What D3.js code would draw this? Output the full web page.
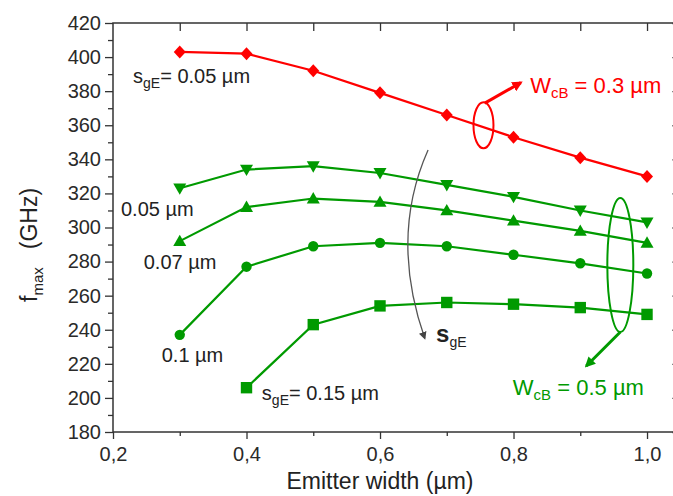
<!DOCTYPE html>
<html>
<head>
<meta charset="utf-8" />
<title>fmax vs emitter width</title>
<script src="https://cdn.jsdelivr.net/npm/d3@7"></script>
<style>
  body { margin: 0; background: #fff; }
  svg text { font-family: "Liberation Sans", Arial, sans-serif; fill: #222; }
  .frame { fill: none; stroke: #333; stroke-width: 1.5px; }
  .axis path { display: none; }
  .axis line { stroke: #333; stroke-width: 1.3px; }
  .axis text { font-size: 20px; fill: #2a2a2a; }
  .series { fill: none; stroke-width: 2.2px; }
</style>
</head>
<body>
<div id="chart"></div>
<script>
// emitter width (um)
var widths = [0.3, 0.4, 0.5, 0.6, 0.7, 0.8, 0.9, 1.0];
var widthsSq = [0.4, 0.5, 0.6, 0.7, 0.8, 0.9, 1.0];

// fmax (GHz)
var wcb03_sg005 = [403, 402, 392, 379, 366, 353, 341, 330];
var wcb05_sg005 = [323, 334, 336, 332, 325, 318, 310, 303];
var wcb05_sg007 = [292, 312, 317, 315, 310, 304, 298, 291];
var wcb05_sg010 = [237, 277, 289, 291, 289, 284, 279, 273];
var wcb05_sg015 = [206, 243, 254, 256, 255, 253, 249];

var xTicks = [0.2, 0.4, 0.6, 0.8, 1.0];
var yTicks = [180, 200, 220, 240, 260, 280, 300, 320, 340, 360, 380, 400, 420];

var RED = "#ff0000", GREEN = "#009a00";

var width = 673, height = 496;
var x = d3.scaleLinear().domain([0.2, 1.05]).range([113, 680.4]);
var y = d3.scaleLinear().domain([180, 420]).range([432, 23]);

var svg = d3.select("#chart").append("svg")
  .attr("width", width).attr("height", height);

// custom symbols
var diamond = { draw: function(ctx, s) { var w = 6, h = 6.5;
  ctx.moveTo(0, -h); ctx.lineTo(w, 0); ctx.lineTo(0, h); ctx.lineTo(-w, 0); ctx.closePath(); } };
var triUp = { draw: function(ctx, s) { var a = 6.5;
  ctx.moveTo(0, -a); ctx.lineTo(a, a * 0.75); ctx.lineTo(-a, a * 0.75); ctx.closePath(); } };
var triDown = { draw: function(ctx, s) { var a = 6.5;
  ctx.moveTo(0, a); ctx.lineTo(a, -a * 0.75); ctx.lineTo(-a, -a * 0.75); ctx.closePath(); } };

var series = [
  { xs: widths, ys: wcb03_sg005, color: RED, sym: diamond, size: 1 },
  { xs: widths, ys: wcb05_sg005, color: GREEN, sym: triDown, size: 1 },
  { xs: widths, ys: wcb05_sg007, color: GREEN, sym: triUp, size: 1 },
  { xs: widths, ys: wcb05_sg010, color: GREEN, sym: d3.symbolCircle, size: 85 },
  { xs: widthsSq, ys: wcb05_sg015, color: GREEN, sym: d3.symbolSquare, size: 130 }
];

// axes
var left = d3.axisLeft(y).tickValues(yTicks).tickSize(8).tickPadding(4);
svg.append("g").attr("class", "axis").attr("transform", "translate(113,0)").call(left);
svg.append("g").attr("class", "axis").attr("transform", "translate(113,0)")
  .call(d3.axisLeft(y).tickValues(d3.range(190, 420, 20)).tickSize(5).tickFormat(""));
svg.append("g").attr("class", "axis").attr("transform", "translate(680.4,0)")
  .call(d3.axisRight(y).tickValues(yTicks).tickSize(-8).tickFormat(""));

var bottom = d3.axisBottom(x).tickValues(xTicks).tickSize(7).tickPadding(8)
  .tickFormat(function(d) { return d3.format(".1f")(d).replace(".", ","); });
svg.append("g").attr("class", "axis").attr("transform", "translate(0,432)").call(bottom);
svg.append("g").attr("class", "axis").attr("transform", "translate(0,432)")
  .call(d3.axisBottom(x).tickValues([0.3, 0.5, 0.7, 0.9]).tickSize(4).tickFormat(""));
svg.append("g").attr("class", "axis").attr("transform", "translate(0,23)")
  .call(d3.axisTop(x).tickValues(d3.range(0.3, 1.01, 0.1)).tickSize(-8).tickFormat(""));

svg.append("rect").attr("class", "frame")
  .attr("x", x(0.2)).attr("y", y(420))
  .attr("width", x(1.05) - x(0.2)).attr("height", y(180) - y(420));

// data lines and markers
var line = d3.line().x(function(d) { return x(d[0]); }).y(function(d) { return y(d[1]); });
series.forEach(function(s) {
  var pts = s.xs.map(function(v, i) { return [v, s.ys[i]]; });
  svg.append("path").attr("class", "series").attr("stroke", s.color).attr("d", line(pts));
  svg.selectAll(null).data(pts).enter().append("path")
    .attr("transform", function(d) { return "translate(" + x(d[0]) + "," + y(d[1]) + ")"; })
    .attr("d", d3.symbol().type(s.sym).size(s.size))
    .attr("fill", s.color);
});

// axis titles
svg.append("text").attr("x", x(0.6)).attr("y", 489)
  .attr("text-anchor", "middle").style("font-size", "23px").text("Emitter width (µm)");

var yl = svg.append("text").attr("transform", "translate(37,302) rotate(-90)")
  .style("font-size", "23px");
yl.append("tspan").text("f");
yl.append("tspan").attr("dy", 6).style("font-size", "15px").text("max");
yl.append("tspan").attr("dy", -6).attr("dx", 18).text("(GHz)");

// labels with subscripts
function label(px, py, pre, sub, post, color, size, bold) {
  var t = svg.append("text").attr("x", x(px)).attr("y", y(py))
    .style("font-size", size + "px").style("fill", color);
  var a = t.append("tspan").text(pre);
  if (bold) a.style("font-weight", "bold").style("font-size", (size + 4) + "px");
  if (sub) {
    t.append("tspan").attr("dy", 5).style("font-size", Math.round(size * 0.68) + "px").text(sub);
    t.append("tspan").attr("dy", -5).text(post);
  }
  return t;
}
label(0.230, 385, "s", "gE", "= 0.05 µm", "#222", 20);
label(0.212, 307, "0.05 µm", null, null, "#222", 20);
label(0.246, 275.5, "0.07 µm", null, null, "#222", 20);
label(0.273, 221, "0.1 µm", null, null, "#222", 20);
label(0.423, 199, "s", "gE", "= 0.15 µm", "#222", 20);
label(0.684, 233, "s", "gE", "", "#222", 20, true);
label(0.825, 379, "W", "cB", " = 0.3 µm", RED, 22);
label(0.799, 202, "W", "cB", " = 0.5 µm", GREEN, 22);

// ellipses and arrows
var defs = svg.append("defs");
[["ahRed", RED], ["ahGreen", GREEN], ["ahGray", "#444"]].forEach(function(m) {
  defs.append("marker").attr("id", m[0]).attr("viewBox", "0 0 10 10")
    .attr("refX", 8).attr("refY", 5).attr("markerWidth", m[0] == "ahGray" ? 6 : 3.5)
    .attr("markerHeight", m[0] == "ahGray" ? 6 : 3.5).attr("orient", "auto")
    .append("path").attr("d", "M0,0 L10,5 L0,10 z").attr("fill", m[1]);
});

svg.append("ellipse").attr("cx", x(0.755)).attr("cy", y(360)).attr("rx", 10).attr("ry", 23)
  .attr("fill", "none").attr("stroke", RED).attr("stroke-width", 2);
svg.append("line").attr("x1", x(0.757)).attr("y1", y(373)).attr("x2", x(0.811)).attr("y2", y(385))
  .attr("stroke", RED).attr("stroke-width", 3).attr("marker-end", "url(#ahRed)");

svg.append("ellipse").attr("cx", x(0.960)).attr("cy", y(278)).attr("rx", 13).attr("ry", 67)
  .attr("fill", "none").attr("stroke", GREEN).attr("stroke-width", 2);
svg.append("line").attr("x1", x(0.960)).attr("y1", y(238.7)).attr("x2", x(0.909)).attr("y2", y(218.7))
  .attr("stroke", GREEN).attr("stroke-width", 3).attr("marker-end", "url(#ahGreen)");

var g = d3.path();
g.moveTo(x(0.672), y(345.5));
g.quadraticCurveTo(x(0.614), y(294.5), x(0.667), y(235));
svg.append("path").attr("d", g.toString()).attr("fill", "none")
  .attr("stroke", "#555").attr("stroke-width", 1.3).attr("marker-end", "url(#ahGray)");
</script>
</body>
</html>
